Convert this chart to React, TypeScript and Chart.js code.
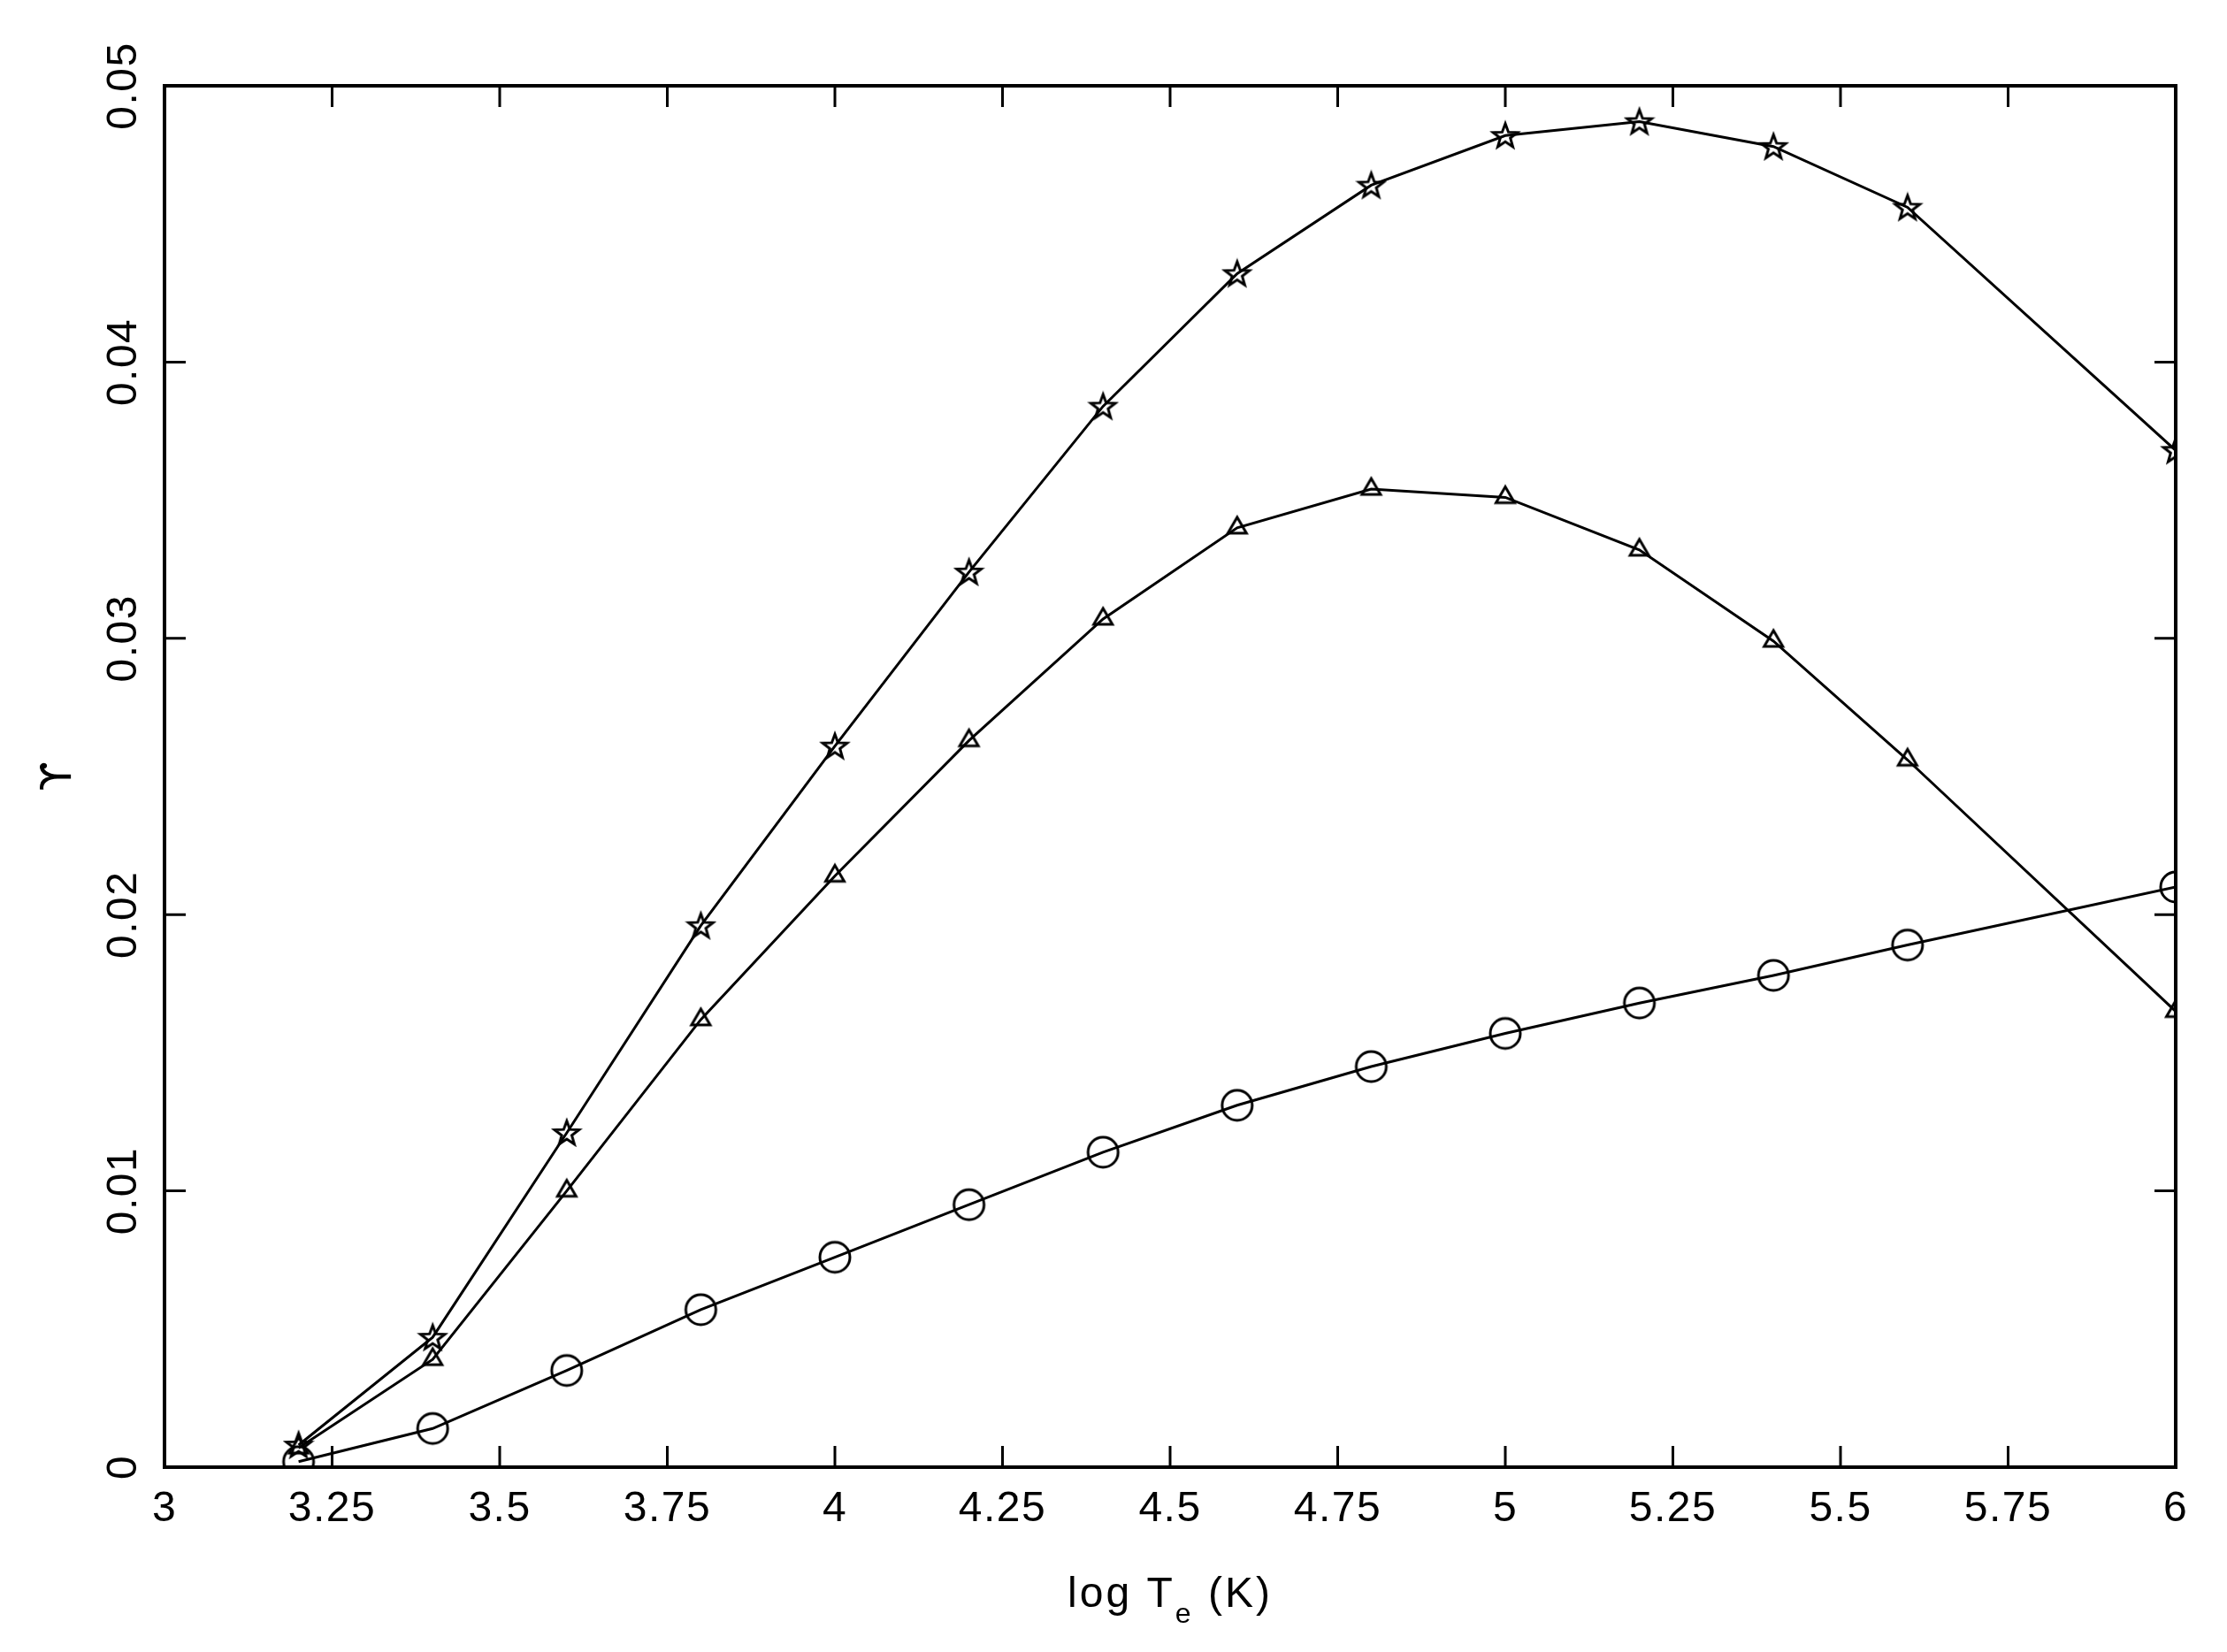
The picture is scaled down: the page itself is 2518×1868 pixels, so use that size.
import React, { useEffect, useRef } from 'react';
import Chart from 'chart.js/auto';

// log Te (K) sample points
const logTe = [3.2, 3.4, 3.6, 3.8, 4.0, 4.2, 4.4, 4.6, 4.8, 5.0, 5.2, 5.4, 5.6, 6.0];

// upsilon values
const starSeries = [0.0008, 0.0047, 0.0121, 0.0196, 0.0261, 0.0324, 0.0384, 0.0432, 0.0464, 0.0482, 0.0487, 0.0478, 0.0456, 0.0368];
const triangleSeries = [0.0007, 0.0039, 0.01, 0.0162, 0.0214, 0.0263, 0.0307, 0.034, 0.0354, 0.0351, 0.0332, 0.0299, 0.0256, 0.0165];
const circleSeries = [0.0002, 0.0014, 0.0035, 0.0057, 0.0076, 0.0095, 0.0114, 0.0131, 0.0145, 0.0157, 0.0168, 0.0178, 0.0189, 0.021];

const xTicks = [3, 3.25, 3.5, 3.75, 4, 4.25, 4.5, 4.75, 5, 5.25, 5.5, 5.75, 6];
const xTickLabels = ['3', '3.25', '3.5', '3.75', '4', '4.25', '4.5', '4.75', '5', '5.25', '5.5', '5.75', '6'];
const yTicks = [0, 0.01, 0.02, 0.03, 0.04, 0.05];
const yTickLabels = ['0', '0.01', '0.02', '0.03', '0.04', '0.05'];

const FONT = '"Liberation Sans", Arial, sans-serif';

const makeCanvas = (size: number) => {
  const c = document.createElement('canvas');
  c.width = size;
  c.height = size;
  const ctx = c.getContext('2d')!;
  ctx.strokeStyle = '#000';
  ctx.lineWidth = 3;
  return { c, ctx };
};

const circleMarker = () => {
  const { c, ctx } = makeCanvas(42);
  ctx.beginPath();
  ctx.arc(21, 21, 17, 0, Math.PI * 2);
  ctx.stroke();
  return c;
};

const starMarker = () => {
  const { c, ctx } = makeCanvas(36);
  ctx.beginPath();
  for (let i = 0; i < 10; i++) {
    const r = i % 2 === 0 ? 14.5 : 6;
    const a = -Math.PI / 2 + (i * Math.PI) / 5;
    const px = 18 + r * Math.cos(a);
    const py = 19 + r * Math.sin(a);
    if (i === 0) ctx.moveTo(px, py);
    else ctx.lineTo(px, py);
  }
  ctx.closePath();
  ctx.stroke();
  return c;
};

const triangleMarker = () => {
  const { c, ctx } = makeCanvas(32);
  const side = 21;
  const h = (side * Math.sqrt(3)) / 2;
  ctx.beginPath();
  ctx.moveTo(16, 16 - (2 * h) / 3);
  ctx.lineTo(16 + side / 2, 16 + h / 3);
  ctx.lineTo(16 - side / 2, 16 + h / 3);
  ctx.closePath();
  ctx.stroke();
  return c;
};

// PGPLOT-like frame: box, inward ticks on all four sides, rotated y labels
const framePlugin = {
  id: 'pgFrame',
  afterDatasetsDraw(chart: any) {
    const { ctx, chartArea } = chart;
    const { left, right, top, bottom } = chartArea;
    const xs = chart.scales.x;
    const ys = chart.scales.y;
    const tick = 24;

    ctx.save();
    ctx.strokeStyle = '#000';
    ctx.fillStyle = '#000';

    ctx.lineWidth = 3;
    ctx.beginPath();
    xTicks.forEach((v) => {
      const px = xs.getPixelForValue(v);
      ctx.moveTo(px, bottom);
      ctx.lineTo(px, bottom - tick);
      ctx.moveTo(px, top);
      ctx.lineTo(px, top + tick);
    });
    yTicks.forEach((v) => {
      const py = ys.getPixelForValue(v);
      ctx.moveTo(left, py);
      ctx.lineTo(left + tick, py);
      ctx.moveTo(right, py);
      ctx.lineTo(right - tick, py);
    });
    ctx.stroke();

    ctx.lineWidth = 4;
    ctx.strokeRect(left, top, right - left, bottom - top);

    ctx.font = `48px ${FONT}`;
    (ctx as any).letterSpacing = '1.5px';
    ctx.textAlign = 'center';
    ctx.textBaseline = 'alphabetic';
    xTicks.forEach((v, i) => {
      ctx.fillText(xTickLabels[i], xs.getPixelForValue(v), bottom + 61);
    });
    yTicks.forEach((v, i) => {
      ctx.save();
      ctx.translate(left - 32, ys.getPixelForValue(v));
      ctx.rotate(-Math.PI / 2);
      ctx.fillText(yTickLabels[i], 0, 0);
      ctx.restore();
    });

    // x title with subscript
    (ctx as any).letterSpacing = '3px';
    ctx.textAlign = 'left';
    const main1 = 'log T';
    const sub = 'e';
    const main2 = ' (K)';
    ctx.font = `48px ${FONT}`;
    const w1 = ctx.measureText(main1).width;
    const w3 = ctx.measureText(main2).width;
    ctx.font = `32px ${FONT}`;
    const w2 = ctx.measureText(sub).width;
    let tx = (left + right) / 2 - (w1 + w2 + w3) / 2;
    const base = bottom + 158;
    ctx.font = `48px ${FONT}`;
    ctx.fillText(main1, tx, base);
    tx += w1;
    ctx.font = `32px ${FONT}`;
    ctx.fillText(sub, tx, base + 18);
    tx += w2;
    ctx.font = `48px ${FONT}`;
    ctx.fillText(main2, tx, base);

    // y title
    (ctx as any).letterSpacing = '0px';
    ctx.save();
    ctx.translate(left - 106, (top + bottom) / 2);
    ctx.rotate(-Math.PI / 2);
    ctx.textAlign = 'center';
    ctx.font = '48px "DejaVu Sans", sans-serif';
    ctx.fillText('\u03D2', 0, 0);
    ctx.restore();

    ctx.restore();
  },
};

const UpsilonChart: React.FC = () => {
  const chartRef = useRef<HTMLCanvasElement>(null);

  useEffect(() => {
    const ctx = chartRef.current?.getContext('2d');
    if (!ctx) return;

    const series = [
      { data: starSeries, marker: starMarker() },
      { data: triangleSeries, marker: triangleMarker() },
      { data: circleSeries, marker: circleMarker() },
    ];

    const chart = new Chart(ctx, {
      type: 'line',
      data: {
        datasets: series.map((s) => ({
          data: logTe.map((x, i) => ({ x, y: s.data[i] })),
          borderColor: '#000',
          borderWidth: 3,
          tension: 0,
          fill: false,
          pointStyle: s.marker as any,
          pointRadius: 14,
          clip: 0,
        })),
      },
      options: {
        animation: false,
        responsive: true,
        maintainAspectRatio: false,
        devicePixelRatio: 1,
        layout: { padding: { top: 97, right: 58, left: 0, bottom: 0 } },
        plugins: { legend: { display: false }, tooltip: { enabled: false } },
        events: [],
        scales: {
          x: {
            type: 'linear',
            min: 3,
            max: 6,
            ticks: { display: false },
            grid: { display: false },
            border: { display: false },
            afterFit: (scale: any) => {
              scale.height = 209;
            },
          },
          y: {
            type: 'linear',
            min: 0,
            max: 0.05,
            ticks: { display: false },
            grid: { display: false },
            border: { display: false },
            afterFit: (scale: any) => {
              scale.width = 186;
            },
          },
        },
      },
      plugins: [framePlugin],
    });

    return () => {
      chart.destroy();
    };
  }, []);

  return (
    <div style={{ position: 'fixed', left: 0, top: 0, width: 2518, height: 1868, background: '#fff' }}>
      <canvas ref={chartRef}></canvas>
    </div>
  );
};

export default function App() {
  return <UpsilonChart />;
}
